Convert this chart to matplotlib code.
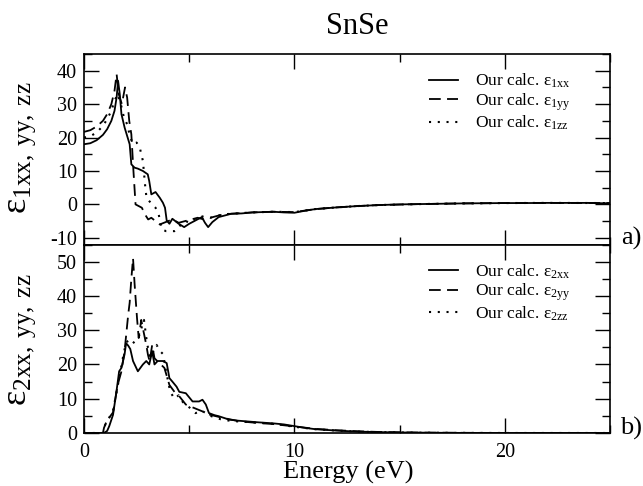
import matplotlib
matplotlib.use("Agg")
import matplotlib.pyplot as plt
from matplotlib.ticker import MultipleLocator

# energy grid + values (eV, dimensionless)
e1xx_E = [0, 0.3, 0.6, 0.9, 1.1, 1.3, 1.45, 1.55, 1.62, 1.7, 1.78, 1.93, 2.17, 2.25, 2.4,
          2.56, 2.8, 3.03, 3.1, 3.2, 3.4, 3.6, 3.75, 3.85, 3.93, 4.06, 4.2, 4.5, 4.76, 5.0,
          5.3, 5.6, 5.75, 5.9, 6.1, 6.4, 6.7, 7.0, 7.5, 8.0, 8.5, 9.0, 9.5, 10.0, 10.5,
          11, 12, 13, 14, 15, 16, 17, 18, 19, 20, 21, 22, 23, 24, 24.6, 25]
e1xx_V = [18, 18.3, 19.2, 20.8, 22.5, 25, 28, 32, 37, 33, 27, 23, 18, 12, 11,
          10.7, 10, 9, 7, 3, 3.7, 2, 0.5, -1, -4.8, -5.8, -4.3, -5.8, -6.8, -5.8,
          -4.8, -3.8, -5.5, -6.8, -5.3, -3.8, -3.3, -2.8, -2.7, -2.4, -2.3, -2.2, -2.4, -2.5, -1.9,
          -1.4, -0.9, -0.5, -0.2, 0, 0.1, 0.2, 0.3, 0.35, 0.4, 0.4, 0.45, 0.45, 0.45, 0.35, 0.35]

e1yy_E = [0, 0.3, 0.6, 0.9, 1.1, 1.3, 1.45, 1.55, 1.65, 1.8, 1.95, 2.05, 2.15, 2.25,
          2.35, 2.45, 2.6, 2.75, 2.9, 3.05, 3.2, 3.4, 3.6, 3.8, 4.0, 4.2, 4.5, 4.8, 5.1,
          5.4, 5.7, 6.0, 6.3, 6.6, 7.0, 7.5, 8.0, 9.0, 10.0, 11, 12, 13, 14, 16, 18, 20, 22, 25]
e1yy_V = [21.7, 22.2, 23.3, 25, 27, 30, 34, 39, 33, 30, 35, 32, 25, 21,
          10, 0, -0.5, -1, -3, -4.5, -4, -5, -6, -5.5, -5, -4.5, -5.5, -5, -4.5,
          -4, -4.5, -4, -3.5, -3, -2.8, -2.6, -2.4, -2.2, -2.3, -1.4, -0.9, -0.5, -0.2, 0.1, 0.3, 0.4, 0.45, 0.4]

e1zz_E = [0, 0.3, 0.6, 0.9, 1.1, 1.3, 1.45, 1.6, 1.75, 1.9, 2.05, 2.2, 2.35, 2.5, 2.65,
          2.8, 2.9, 2.97, 3.1, 3.25, 3.4, 3.55, 3.7, 3.9, 4.1, 4.3, 4.45, 4.6, 4.8, 5.1,
          5.4, 5.7, 6.0, 6.3, 6.6, 7.0, 7.5, 8.0, 9.0, 10.0, 11, 12, 13, 14, 16, 18, 20, 22, 25]
e1zz_V = [20, 20.4, 21.5, 23.5, 25.5, 28, 31, 33, 30, 26, 24, 20, 18, 18.5, 17,
          13, 6, 2, 1, 0, -1, -3, -7.5, -8, -8, -8, -7.5, -6, -5, -5.5,
          -4, -3.5, -4, -3.5, -3, -2.8, -2.6, -2.4, -2.2, -2.3, -1.4, -0.9, -0.5, -0.2, 0.1, 0.3, 0.4, 0.45, 0.4]

e2xx_E = [0, 0.9, 1.0, 1.1, 1.2, 1.38, 1.54, 1.67, 1.78, 1.93, 2.0, 2.1, 2.2, 2.33, 2.56,
          2.8, 2.96, 3.1, 3.24, 3.35, 3.5, 3.74, 3.93, 4.06, 4.2, 4.4, 4.53, 4.84, 5.16,
          5.47, 5.63, 5.79, 5.94, 6.2, 6.4, 6.9, 7.3, 7.7, 8.3, 9.0, 9.5, 10.0, 10.5, 11,
          12, 13, 14, 15, 16, 17, 18, 20, 22, 25]
e2xx_V = [0, 0, 0.2, 0.6, 2.0, 5.3, 12, 18, 19, 23, 26.2, 25.5, 24.5, 21, 18,
          20, 21, 20, 23.8, 20, 21, 21, 20.4, 16, 15, 13.5, 12, 11.6, 9.2,
          9.2, 9.7, 8.3, 5.8, 5.2, 4.9, 3.9, 3.6, 3.4, 3.1, 2.8, 2.5, 2.0, 1.5, 1.1,
          0.7, 0.4, 0.25, 0.15, 0.1, 0.05, 0.02, 0, 0, 0]

e2yy_E = [0, 0.9, 0.95, 1.05, 1.2, 1.38, 1.6, 1.78, 1.93, 2.1, 2.17, 2.25, 2.33, 2.41,
          2.52, 2.6, 2.72, 2.83, 2.96, 3.04, 3.12, 3.24, 3.35, 3.58, 3.82, 4.06, 4.3,
          4.53, 4.84, 5.23, 5.63, 6.0, 6.6, 7.4, 8.3, 9.0, 10.0, 11, 12, 13, 14, 15, 16,
          18, 20, 25]
e2yy_V = [0, 0, 1.5, 3, 4.5, 6, 14, 18, 24, 34.5, 38, 45, 51, 43,
          33.5, 27.7, 33, 29.6, 25.7, 22.8, 20.9, 25.7, 21.8, 20.4, 19, 14, 12,
          10.7, 8.3, 7.3, 6.3, 5.3, 4.4, 3.4, 2.9, 2.6, 1.9, 1.2, 0.8, 0.5, 0.3, 0.2, 0.1,
          0.05, 0, 0]

e2zz_E = [0, 0.9, 0.95, 1.05, 1.2, 1.38, 1.55, 1.7, 1.85, 2.0, 2.15, 2.3, 2.45, 2.6,
          2.75, 2.85, 3.0, 3.15, 3.3, 3.45, 3.6, 3.76, 3.9, 4.1, 4.3, 4.5, 4.7, 5.0, 5.3,
          5.6, 6.0, 6.5, 7.0, 7.5, 8.3, 9.0, 10.0, 11, 12, 13, 14, 15, 16, 18, 20, 25]
e2zz_V = [0, 0, 1.5, 3, 4.5, 6.5, 12, 17, 22, 26.5, 27, 26, 27, 28,
          31, 33, 26, 22, 24, 25.7, 24, 23, 18, 12, 10, 11, 9, 7.5, 5.8,
          6.5, 5, 4, 3.5, 3.3, 3.0, 2.7, 1.8, 1.1, 0.7, 0.4, 0.25, 0.15, 0.08, 0.03, 0, 0]

plt.rcParams.update({
    "font.family": "Liberation Serif",
    "mathtext.fontset": "custom",
    "mathtext.rm": "Liberation Serif",
    "mathtext.it": "Liberation Serif:italic",
    "axes.linewidth": 1.2,
    "axes.unicode_minus": False,
})

LS = {"solid": "-", "dash": (0, (6.5, 3.5)), "dot": (0, (1, 3.2))}

fig = plt.figure(figsize=(6.43, 4.86), dpi=100)
L, W = 84 / 643, 526 / 643
ax1 = fig.add_axes([L, 0.4969, W, 0.3920])
ax2 = fig.add_axes([L, 0.1091, W, 0.3878])

ax1.plot(e1xx_E, e1xx_V, color="k", lw=1.3, ls=LS["solid"], label=r"Our calc. $\mathrm{ε_{1xx}}$")
ax1.plot(e1yy_E, e1yy_V, color="k", lw=1.3, ls=LS["dash"], label=r"Our calc. $\mathrm{ε_{1yy}}$")
ax1.plot(e1zz_E, e1zz_V, color="k", lw=1.5, ls=LS["dot"], label=r"Our calc. $\mathrm{ε_{1zz}}$")

ax2.plot(e2xx_E, e2xx_V, color="k", lw=1.3, ls=LS["solid"], label=r"Our calc. $\mathrm{ε_{2xx}}$")
ax2.plot(e2yy_E, e2yy_V, color="k", lw=1.3, ls=LS["dash"], label=r"Our calc. $\mathrm{ε_{2yy}}$")
ax2.plot(e2zz_E, e2zz_V, color="k", lw=1.5, ls=LS["dot"], label=r"Our calc. $\mathrm{ε_{2zz}}$")

ax1.set_ylim(-12, 45)
ax2.set_ylim(0, 55)
for ax in (ax1, ax2):
    ax.set_xlim(0, 25)
    ax.xaxis.set_major_locator(MultipleLocator(10))
    ax.xaxis.set_minor_locator(MultipleLocator(5))
    ax.yaxis.set_major_locator(MultipleLocator(10))
    ax.yaxis.set_minor_locator(MultipleLocator(5))
    ax.tick_params(which="both", direction="in", top=True, right=True, width=1.0)
    ax.tick_params(which="major", length=10.5, labelsize=14.5)
    ax.tick_params(which="minor", length=5.5)
    ax.tick_params(axis="y", pad=5)
    ax.tick_params(axis="x", pad=7)
ax1.tick_params(labelbottom=False)

leg_kw = dict(frameon=False, fontsize=12.5, handlelength=1.7, handletextpad=0.95,
              labelspacing=0.05, borderaxespad=0, borderpad=0, loc="upper left")
ax1.legend(bbox_to_anchor=(0.655, 0.905), **leg_kw)
ax2.legend(bbox_to_anchor=(0.655, 0.905), **leg_kw)

fig.text(22 / 643, 1 - 148 / 486, r"$\mathrm{ε_{1xx,\;yy,\;zz}}$", rotation=90,
         ha="center", va="center", fontsize=26)
fig.text(22 / 643, 1 - 340 / 486, r"$\mathrm{ε_{2xx,\;yy,\;zz}}$", rotation=90,
         ha="center", va="center", fontsize=26)
fig.text(357 / 643, 1 - 27 / 486, "SnSe", ha="center", va="center", fontsize=22)
fig.text(348 / 643, 1 - 472 / 486, "Energy (eV)", ha="center", va="center", fontsize=19)
fig.text(631 / 643, 1 - 238 / 486, "a)", ha="center", va="center", fontsize=19)
fig.text(631 / 643, 1 - 428 / 486, "b)", ha="center", va="center", fontsize=19)

fig.savefig("out.png", dpi=100)
